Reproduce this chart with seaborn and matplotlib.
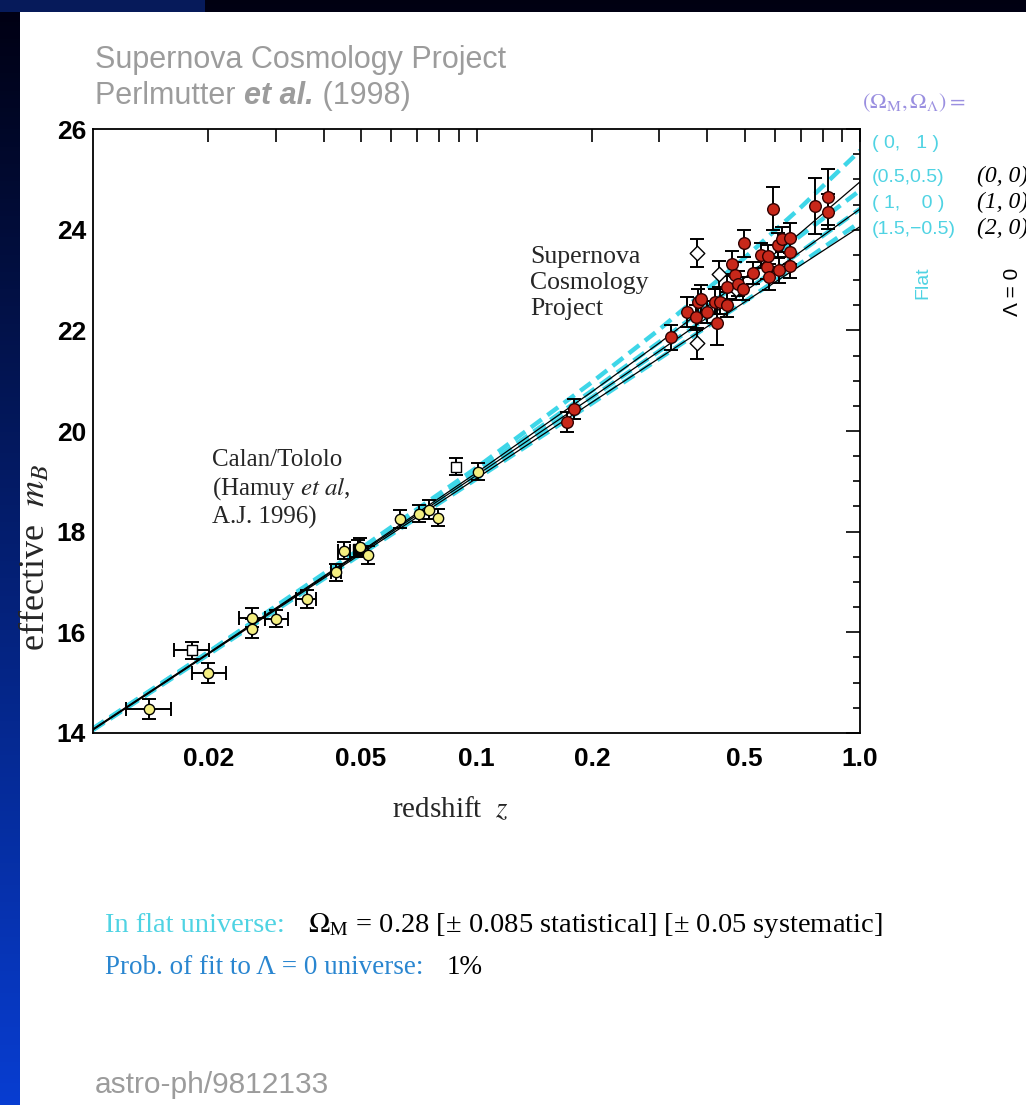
import numpy as np
import pandas as pd
import matplotlib
matplotlib.use("Agg")
import matplotlib.pyplot as plt
import seaborn as sns
from matplotlib.patches import Rectangle
from matplotlib.ticker import FixedLocator, FixedFormatter, MultipleLocator

# ---------------- data ----------------
# model magnitude-redshift curves, (Omega_M, Omega_Lambda)
z_model = [0.01, 0.02, 0.05, 0.1, 0.2, 0.3, 0.5, 0.7, 1.0]
m_flat_0_1 = [14.09, 15.61, 17.67, 19.27, 20.97, 22.02, 23.44, 24.44, 25.57]
m_flat_05_05 = [14.08, 15.60, 17.63, 19.19, 20.80, 21.77, 23.03, 23.88, 24.78]
m_flat_1_0 = [14.07, 15.58, 17.59, 19.12, 20.67, 21.59, 22.77, 23.56, 24.41]
m_flat_15_m05 = [14.06, 15.56, 17.55, 19.05, 20.55, 21.44, 22.57, 23.33, 24.15]
m_open_0_0 = [14.08, 15.59, 17.61, 19.17, 20.78, 21.75, 23.04, 23.94, 24.95]
m_open_1_0 = [14.07, 15.58, 17.59, 19.12, 20.67, 21.59, 22.77, 23.56, 24.41]
m_open_2_0 = [14.06, 15.57, 17.56, 19.06, 20.57, 21.45, 22.56, 23.29, 24.06]

# Calan/Tololo low-redshift supernovae
ct_z = [0.0140, 0.0181, 0.0200, 0.0259, 0.0260, 0.0300, 0.0361, 0.0429, 0.0451,
        0.0490, 0.0498, 0.0520, 0.0632, 0.0710, 0.0752, 0.0792, 0.0883, 0.1007]
ct_m = [14.48, 15.64, 15.19, 16.29, 16.07, 16.27, 16.67, 17.19, 17.62,
        17.66, 17.70, 17.54, 18.26, 18.36, 18.44, 18.28, 19.29, 19.19]
ct_merr = [0.20, 0.17, 0.20, 0.19, 0.19, 0.17, 0.18, 0.17, 0.17,
           0.17, 0.18, 0.18, 0.18, 0.17, 0.18, 0.17, 0.17, 0.17]
ct_zlo = [0.0018, 0.0018, 0.0019, 0.0019, 0.0, 0.0019, 0.0023, 0.0012, 0.0015,
          0.0, 0.0, 0.0, 0.0, 0.0, 0.0, 0.0, 0.0, 0.0]
ct_zhi = [0.0020, 0.0020, 0.0022, 0.0022, 0.0, 0.0022, 0.0020, 0.0015, 0.0016,
          0.0, 0.0, 0.0, 0.0, 0.0, 0.0, 0.0, 0.0, 0.0]
ct_kind = ["fill", "open", "fill", "fill", "fill", "fill", "fill", "fill", "fill",
           "dark", "fill", "fill", "fill", "fill", "fill", "fill", "open", "fill"]

# Supernova Cosmology Project high-redshift supernovae
scp_z = [0.1725, 0.1796, 0.321, 0.354, 0.373, 0.379, 0.386, 0.400, 0.419, 0.424,
         0.431, 0.449, 0.450, 0.463, 0.472, 0.482, 0.495, 0.499, 0.527, 0.551,
         0.571, 0.577, 0.579, 0.592, 0.612, 0.614, 0.625, 0.657, 0.657, 0.657,
         0.763, 0.827, 0.827]
scp_m = [20.18, 20.43, 21.86, 22.37, 22.26, 22.57, 22.63, 22.37, 22.57, 22.14,
         22.57, 22.51, 22.87, 23.32, 23.10, 22.93, 22.83, 23.73, 23.14, 23.49,
         23.26, 23.48, 23.06, 24.42, 23.69, 23.20, 23.81, 23.83, 23.56, 23.28,
         24.47, 24.65, 24.36]
scp_merr = [0.20, 0.20, 0.25, 0.30, 0.25, 0.25, 0.28, 0.22, 0.25, 0.43,
            0.25, 0.25, 0.25, 0.25, 0.25, 0.25, 0.22, 0.27, 0.22, 0.25,
            0.25, 0.22, 0.25, 0.43, 0.25, 0.25, 0.25, 0.30, 0.25, 0.25,
            0.55, 0.55, 0.35]
# open (excluded) high-redshift points
scp_open_z = [0.375, 0.375, 0.429, 0.476]
scp_open_m = [23.54, 21.74, 23.12, 22.83]
scp_open_merr = [0.28, 0.30, 0.25, 0.22]

# labels
x_major = [0.02, 0.05, 0.1, 0.2, 0.5, 1.0]
x_major_labels = ["0.02", "0.05", "0.1", "0.2", "0.5", "1.0"]
x_minor = [0.03, 0.04, 0.06, 0.07, 0.08, 0.09, 0.3, 0.4, 0.6, 0.7, 0.8, 0.9]
flat_labels = ["( 0,   1 )", "(0.5,0.5)", "( 1,    0 )", "(1.5,\u22120.5)"]
open_labels = ["(0, 0)", "(1, 0)", "(2, 0)"]

# ---------------- style ----------------
sns.set_theme(style="white")
plt.rcParams["font.family"] = ["Liberation Sans", "DejaVu Sans"]
plt.rcParams["mathtext.fontset"] = "stix"

W, H = 1026, 1105
fig = plt.figure(figsize=(W / 100, H / 100), dpi=100)

CYAN = "#3ed6e8"
CYAN_T = "#4fd3e3"
LAV = "#9a8fe0"
BLUE_T = "#2a86d0"
GRAY = "#9c9c9c"
RED = "#c8281a"
YEL = "#f4ee80"

# background: blue gradient frame + white panel
bg = fig.add_axes([0, 0, 1, 1], zorder=-10)
grad = np.linspace(0, 1, 256)[:, None]
top_c = np.array([0.00, 0.00, 0.07])
bot_c = np.array([0.03, 0.24, 0.82])
img = top_c[None, None, :] * (1 - grad[:, :, None]) + bot_c[None, None, :] * grad[:, :, None]
bg.imshow(img, extent=[0, W, H, 0], aspect="auto")
bg.add_patch(Rectangle((0, 0), 205, 12, facecolor="#061a5a", edgecolor="none"))
bg.add_patch(Rectangle((20, 12), W - 20, H - 12, facecolor="white", edgecolor="none"))
bg.set_xlim(0, W)
bg.set_ylim(H, 0)
bg.axis("off")

# main axes
x0, x1, y0, y1 = 93, 860, 129, 733
ax = fig.add_axes([x0 / W, 1 - y1 / H, (x1 - x0) / W, (y1 - y0) / H])
ax.set_facecolor("none")

# model curves
flat_sets = [m_flat_0_1, m_flat_05_05, m_flat_1_0, m_flat_15_m05]
open_sets = [m_open_0_0, m_open_1_0, m_open_2_0]
for m in flat_sets:
    sns.lineplot(x=z_model, y=m, ax=ax, color=CYAN, lw=3.2,
                 linestyle=(0, (3.0, 1.6)), zorder=2)
for m in open_sets:
    sns.lineplot(x=z_model, y=m, ax=ax, color="black", lw=0.9, zorder=3)

ax.set_xscale("log")
ax.set_xlim(0.01, 1.0)
ax.set_ylim(14, 26)

# error bars
ebkw = dict(fmt="none", ecolor="black", elinewidth=1.4, capsize=5, capthick=1.4, zorder=4)
ax.errorbar(ct_z, ct_m, yerr=ct_merr, xerr=[ct_zlo, ct_zhi], **ebkw)
ax.errorbar(scp_z, scp_m, yerr=scp_merr, **ebkw)
ax.errorbar(scp_open_z, scp_open_m, yerr=scp_open_merr, **ebkw)

# markers
ct = pd.DataFrame({"z": ct_z, "m": ct_m, "kind": ct_kind})
sub = ct[ct.kind == "fill"]
sns.scatterplot(data=sub, x="z", y="m", ax=ax, color=YEL, edgecolor="black",
                linewidth=1.0, s=55, marker="o", zorder=6)
sub = ct[ct.kind == "open"]
sns.scatterplot(data=sub, x="z", y="m", ax=ax, color="white", edgecolor="black",
                linewidth=1.0, s=45, marker="s", zorder=6)
sub = ct[ct.kind == "dark"]
sns.scatterplot(data=sub, x="z", y="m", ax=ax, color="black", edgecolor="black",
                linewidth=1.0, s=45, marker="s", zorder=5)
sns.scatterplot(x=scp_open_z, y=scp_open_m, ax=ax, color="white", edgecolor="black",
                linewidth=1.0, s=55, marker="D", zorder=6)
sns.scatterplot(x=scp_z, y=scp_m, ax=ax, color=RED, edgecolor="#300000",
                linewidth=1.0, s=70, marker="o", zorder=7)

# ticks and spines
ax.xaxis.set_major_locator(FixedLocator(x_major))
ax.xaxis.set_major_formatter(FixedFormatter(x_major_labels))
ax.xaxis.set_minor_locator(FixedLocator(x_minor))
ax.xaxis.set_minor_formatter(FixedFormatter([""] * len(x_minor)))
ax.yaxis.set_major_locator(MultipleLocator(2))
ax.yaxis.set_minor_locator(MultipleLocator(0.5))
ax.tick_params(axis="both", which="both", direction="in", top=True, right=True,
               colors="black", width=1.2)
ax.tick_params(axis="x", which="both", length=9, pad=10, labelsize=19)
ax.tick_params(axis="y", which="major", length=10, pad=5, labelsize=19)
ax.tick_params(axis="y", which="minor", length=5)
for lab in ax.get_xticklabels() + ax.get_yticklabels():
    lab.set_fontweight("bold")
for sp in ax.spines.values():
    sp.set_visible(True)
    sp.set_color("black")
    sp.set_linewidth(1.3)
ax.grid(False)

serif = ["Liberation Serif", "DejaVu Serif"]
ax.set_xlabel("redshift  $z$", fontsize=21, family=serif)
ax.xaxis.set_label_coords((450 - x0) / (x1 - x0), (y1 - 795) / (y1 - y0))
ax.set_ylabel("effective  $m_B$", fontsize=26, family=serif)
ax.yaxis.set_label_coords((52 - x0) / (x1 - x0), (y1 - 557) / (y1 - y0))


def ftxt(x, y, s, **kw):
    return fig.text(x / W, 1 - y / H, s, **kw)


renderer = fig.canvas.get_renderer()


def chain(x, y, parts, **kw):
    """Place text pieces one after another on the same line."""
    for s, extra in parts:
        t = ftxt(x, y, s, ha="left", va="baseline", **kw, **extra)
        bb = t.get_window_extent(renderer=renderer)
        x += bb.width


# in-plot annotations
ftxt(530, 283, "Supernova\nCosmology\nProject", fontsize=18.5, family=serif,
     ha="left", va="center", linespacing=1.22)
ftxt(212, 489, "Calan/Tololo\n(Hamuy $\\mathit{et\\ al}$,\nA.J. 1996)", fontsize=18,
     family=serif, ha="left", va="center", linespacing=1.22)

# header
ftxt(95, 68, "Supernova Cosmology Project", fontsize=22, color=GRAY,
     ha="left", va="baseline")
chain(95, 104, [("Perlmutter ", {}), ("et al.", {"fontweight": "bold", "fontstyle": "italic"}),
                (" (1998)", {})], fontsize=22, color=GRAY)

# right-hand model key
ftxt(862, 103, "$(\\Omega_{\\rm M},\\Omega_\\Lambda) =$", fontsize=16, color=LAV,
     ha="left", va="center")
for lbl, yy in zip(flat_labels, [143, 177, 203, 229]):
    ftxt(872, yy, lbl, fontsize=14, color=CYAN_T, ha="left", va="center")
for lbl, yy in zip(open_labels, [176, 202, 228]):
    ftxt(977, yy, lbl, fontsize=17, color="black", ha="left", va="center",
         family=serif, fontstyle="italic")
ftxt(923, 283, "Flat", fontsize=14, color=CYAN_T, rotation=90, ha="center", va="center")
ftxt(1012, 292, "\u039b = 0", fontsize=15, color="black", rotation=90,
     ha="center", va="center")

# footer
ftxt(105, 926, "In flat universe:", fontsize=20.5, color=CYAN_T, family=serif,
     ha="left", va="center")
ftxt(308, 926, "$\\Omega_{\\rm M}$ = 0.28 [\u00b1 0.085 statistical] [\u00b1 0.05 systematic]",
     fontsize=20.5, color="black", family=serif, ha="left", va="center")
ftxt(105, 968, "Prob. of fit to \u039b = 0 universe:", fontsize=19.5, color=BLUE_T,
     family=serif, ha="left", va="center")
ftxt(447, 968, "1%", fontsize=19.5, color="black", family=serif, ha="left", va="center")
ftxt(95, 1085, "astro-ph/9812133", fontsize=21.5, color=GRAY, ha="left", va="center")

fig.savefig("out.png", dpi=100)
